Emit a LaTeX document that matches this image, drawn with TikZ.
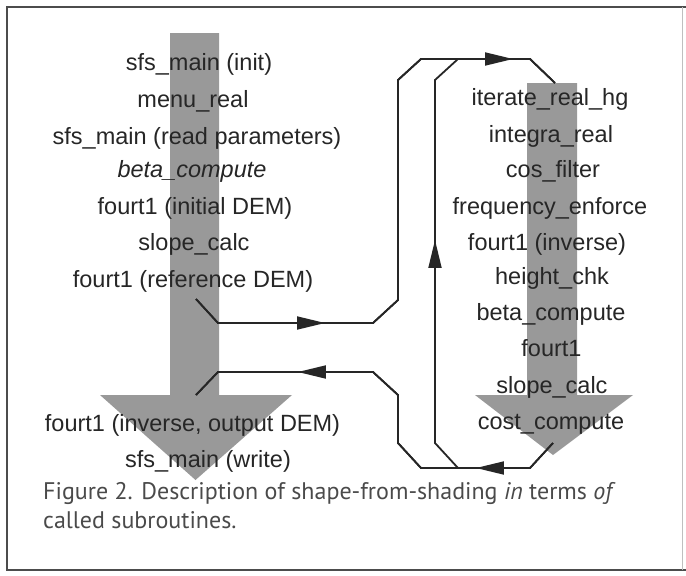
\documentclass[tikz,border=0pt]{standalone}
\usepackage{fontspec}
\setmainfont{Liberation Sans}
\newfontfamily\capfont{PT Sans}
\usetikzlibrary{arrows.meta,decorations.markings}
\definecolor{shade}{HTML}{999999}
\definecolor{ink}{HTML}{262626}
\definecolor{capink}{HTML}{4A4A4A}
\tikzset{
  bigarrow/.style={fill=shade,draw=none},
  lbl/.style={anchor=base,inner sep=0pt,text=ink,font=\fontsize{23.5}{26}\selectfont},
  caplbl/.style={anchor=base west,inner sep=0pt,text=capink,font=\capfont\fontsize{24}{29}\selectfont},
  conn/.style={draw=ink,line width=1.8pt,line join=miter},
  tipmark/.style={postaction={decorate,decoration={markings,
     mark=at position #1 with {\arrow{Triangle[length=28pt,width=13pt]}}}}},
  frameline/.style={draw=black!70,line width=1.4pt},
}
\begin{document}
\begin{tikzpicture}[x=1pt,y=-1pt]
\useasboundingbox (0,0) rectangle (686,576);
% frame
\draw[frameline] (686,7) -- (7,7) -- (7,570) -- (686,570);
\draw[draw=black!25,line width=0.8pt] (682,7) -- (682,570);
% shaded arrows
\path[bigarrow] (170,33) -- (219,33) -- (219,395) -- (292,395) -- (195.5,480) -- (100,395) -- (170,395) -- cycle;
\path[bigarrow] (527,83) -- (577,83) -- (577,395) -- (633,395) -- (553,455) -- (475,395) -- (527,395) -- cycle;
% connectors
\coordinate (p1a) at (196,299);
\coordinate (p1b) at (555,83);
\draw[conn,tipmark=139.6pt] (p1a) -- (218,323) -- (373,323) -- (398,300) -- (398,80) -- (421,59) -- (530,59) -- (p1b);
\draw[conn,tipmark=564.7pt] (p1a) -- (218,323) -- (373,323) -- (398,300) -- (398,80) -- (421,59) -- (530,59) -- (p1b);
\coordinate (p2a) at (553,443);
\coordinate (p2b) at (196,395);
\draw[conn,tipmark=88pt] (p2a) -- (530,468) -- (421,468) -- (398,443) -- (398,395) -- (373,372) -- (218,372) -- (p2b);
\draw[conn,tipmark=334pt] (p2a) -- (530,468) -- (421,468) -- (398,443) -- (398,395) -- (373,372) -- (218,372) -- (p2b);
\coordinate (p3a) at (458,468);
\coordinate (p3b) at (458,59);
\draw[conn,tipmark=237pt] (p3a) -- (435,443) -- (435,80) -- (p3b);
% left column
\node[lbl] (l1) at (199,70) {sfs\_main (init)};
\node[lbl] (l2) at (193,107) {menu\_real};
\node[lbl] (l3) at (197,144) {sfs\_main (read parameters)};
\node[lbl] (l4) at (192,177) {\itshape beta\_compute};
\node[lbl] (l5) at (195,214) {fourt1 (initial DEM)};
\node[lbl] (l6) at (194,250) {slope\_calc};
\node[lbl] (l7) at (193,287) {fourt1 (reference DEM)};
\node[lbl] (l8) at (192.5,431) {fourt1 (inverse, output DEM)};
\node[lbl] (l9) at (208,467) {sfs\_main (write)};
% right column
\node[lbl] (r1) at (550,105) {iterate\_real\_hg};
\node[lbl] (r2) at (551,142) {integra\_real};
\node[lbl] (r3) at (553,177) {cos\_filter};
\node[lbl] (r4) at (550,214) {frequency\_enforce};
\node[lbl] (r5) at (547,250) {fourt1 (inverse)};
\node[lbl] (r6) at (552,284) {height\_chk};
\node[lbl] (r7) at (551,320) {beta\_compute};
\node[lbl] (r8) at (551.5,356) {fourt1};
\node[lbl] (r9) at (552,393) {slope\_calc};
\node[lbl] (r10) at (551,429) {cost\_compute};
% caption
\node[caplbl] (cap1) at (43,499) {Figure 2. Description of shape-from-shading \textit{in} terms \textit{of}};
\node[caplbl] (cap2) at (43,528) {called subroutines.};
\end{tikzpicture}
\end{document}
